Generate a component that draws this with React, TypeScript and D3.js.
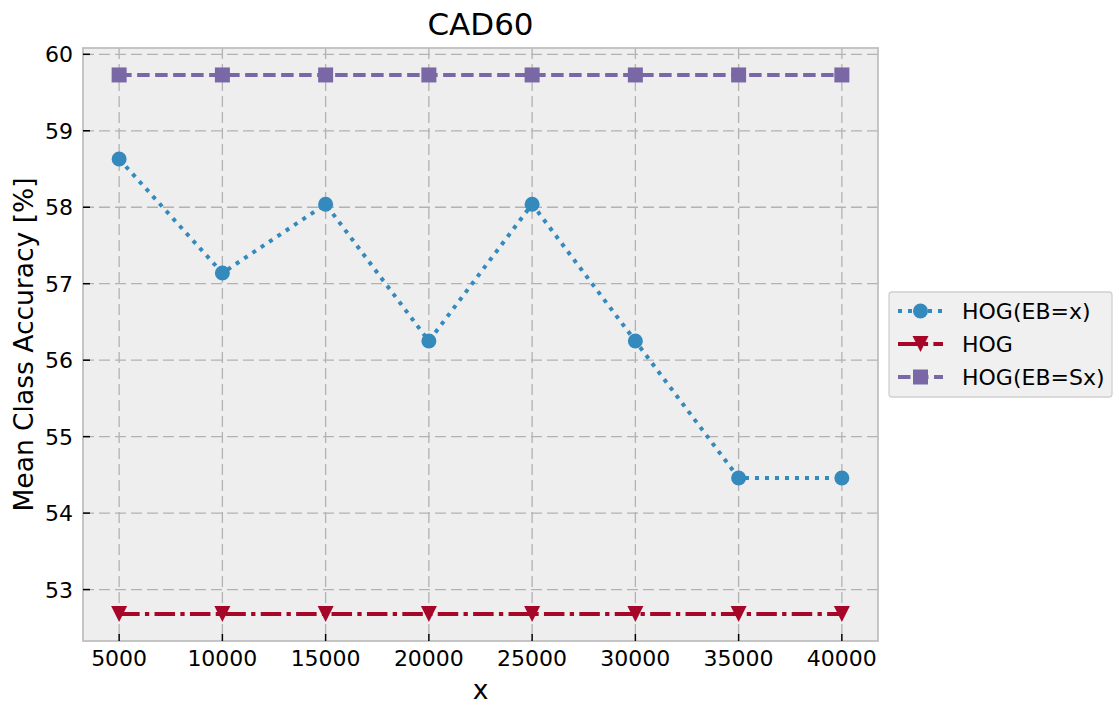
import * as d3 from 'd3'

const xValues = [5000, 10000, 15000, 20000, 25000, 30000, 35000, 40000]
const hogEbX = [58.63, 57.14, 58.04, 56.25, 58.04, 56.25, 54.46, 54.46]
const hog = [52.68, 52.68, 52.68, 52.68, 52.68, 52.68, 52.68, 52.68]
const hogEbSx = [59.73, 59.73, 59.73, 59.73, 59.73, 59.73, 59.73, 59.73]
const yTicks = [53, 54, 55, 56, 57, 58, 59, 60]
const seriesNames = ['HOG(EB=x)', 'HOG', 'HOG(EB=Sx)']

const W = 1113
const H = 704
const left = 83
const right = 878
const top = 48
const bottom = 641
const font = 'DejaVu Sans, sans-serif'

type Marker = 'circle' | 'tri' | 'square'

const series: { name: string; values: number[]; color: string; dash: string; marker: Marker }[] = [
  { name: seriesNames[0], values: hogEbX, color: '#348ABD', dash: '4 6', marker: 'circle' },
  { name: seriesNames[1], values: hog, color: '#A60628', dash: '20.5 5.3 4.3 5.3', marker: 'tri' },
  { name: seriesNames[2], values: hogEbSx, color: '#7A68A6', dash: '12.5 5.5', marker: 'square' },
]

function drawMarker(kind: Marker, cx: number, cy: number, color: string, key: string | number) {
  if (kind === 'circle') return <circle key={key} cx={cx} cy={cy} r={7.5} fill={color} />
  if (kind === 'square')
    return <rect key={key} x={cx - 7.5} y={cy - 7.5} width={15} height={15} fill={color} />
  const s = 8
  return (
    <path key={key} d={`M${cx - s},${cy - s}L${cx + s},${cy - s}L${cx},${cy + s}Z`} fill={color} />
  )
}

export default function App() {
  const allX = d3.extent(xValues) as [number, number]
  const allY = d3.extent([...hogEbX, ...hog, ...hogEbSx]) as [number, number]
  const mx = (allX[1] - allX[0]) * 0.05
  const my = (allY[1] - allY[0]) * 0.05

  const x = d3.scaleLinear().domain([allX[0] - mx, allX[1] + mx]).range([left, right])
  const y = d3.scaleLinear().domain([allY[0] - my, allY[1] + my]).range([bottom, top])

  const line = d3
    .line<number>()
    .x((_, i) => x(xValues[i]))
    .y(d => y(d))

  const legX = 889
  const legY = 292
  const rowY = [311, 344, 377]

  return (
    <svg
      width={W}
      height={H}
      style={{ position: 'absolute', left: 0, top: 0, background: '#fff' }}
      fontFamily={font}
    >
      <rect x={left} y={top} width={right - left} height={bottom - top} fill="#eeeeee" />

      {/* grid */}
      <g stroke="#b2b2b2" strokeWidth={1.3} strokeDasharray="11 5">
        {xValues.map(v => (
          <line key={'gx' + v} x1={x(v)} x2={x(v)} y1={top} y2={bottom} />
        ))}
        {yTicks.map(v => (
          <line key={'gy' + v} x1={left} x2={right} y1={y(v)} y2={y(v)} />
        ))}
      </g>

      {/* series */}
      {series.map(s => (
        <g key={s.name}>
          <path
            d={line(s.values) || ''}
            fill="none"
            stroke={s.color}
            strokeWidth={4}
            strokeDasharray={s.dash}
          />
          {s.values.map((v, i) => drawMarker(s.marker, x(xValues[i]), y(v), s.color, i))}
        </g>
      ))}

      {/* frame */}
      <rect
        x={left}
        y={top}
        width={right - left}
        height={bottom - top}
        fill="none"
        stroke="#bcbcbc"
        strokeWidth={1.7}
      />

      {/* ticks */}
      <g stroke="#000" strokeWidth={1.5}>
        {xValues.map(v => (
          <line key={'tx' + v} x1={x(v)} x2={x(v)} y1={bottom} y2={bottom - 7} />
        ))}
        {yTicks.map(v => (
          <line key={'ty' + v} x1={left} x2={left + 7} y1={y(v)} y2={y(v)} />
        ))}
      </g>
      <g fontSize={22} fill="#000">
        {xValues.map(v => (
          <text key={'lx' + v} x={x(v)} y={666} textAnchor="middle">
            {v}
          </text>
        ))}
        {yTicks.map(v => (
          <text key={'ly' + v} x={73} y={y(v) + 8} textAnchor="end">
            {v}
          </text>
        ))}
      </g>

      {/* titles */}
      <text x={(left + right) / 2} y={35} textAnchor="middle" fontSize={31}>
        CAD60
      </text>
      <text x={(left + right) / 2} y={699} textAnchor="middle" fontSize={26.5}>
        x
      </text>
      <text
        transform={`translate(33,${(top + bottom) / 2}) rotate(-90)`}
        textAnchor="middle"
        fontSize={26.5}
      >
        Mean Class Accuracy [%]
      </text>

      {/* legend */}
      <rect
        x={legX}
        y={legY}
        width={223}
        height={105}
        rx={3}
        fill="#f0f0f0"
        stroke="#d0d0d0"
        strokeWidth={1.3}
      />
      {series.map((s, i) => (
        <g key={'leg' + s.name}>
          <line
            x1={898}
            x2={943}
            y1={rowY[i]}
            y2={rowY[i]}
            stroke={s.color}
            strokeWidth={4}
            strokeDasharray={s.dash}
          />
          {drawMarker(s.marker, 920.5, rowY[i], s.color, 'm' + i)}
          <text x={962} y={rowY[i] + 8} fontSize={22}>
            {s.name}
          </text>
        </g>
      ))}
    </svg>
  )
}
